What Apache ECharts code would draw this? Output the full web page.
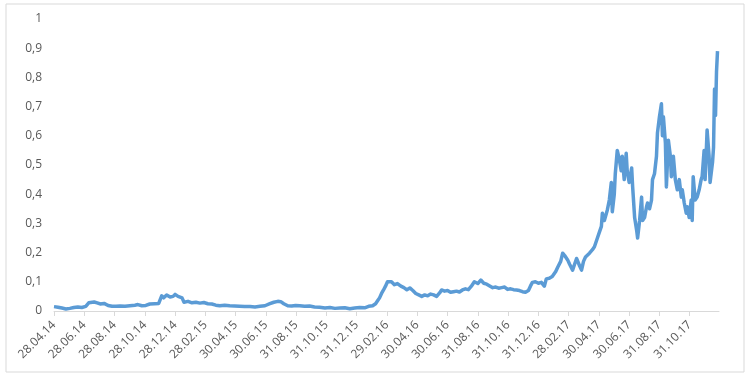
<!DOCTYPE html>
<html>
<head>
<meta charset="utf-8">
<script src="https://cdn.jsdelivr.net/npm/echarts@6/dist/echarts.min.js"></script>
<style>
  html, body { margin: 0; padding: 0; background: #fff; }
  #chart { width: 750px; height: 377px; }
</style>
</head>
<body>
<div id="chart"></div>
<script>
// подписи оси X (каждые 61 день от 28.04.14)
const tickLabels = [
  '28.04.14', '28.06.14', '28.08.14', '28.10.14', '28.12.14', '28.02.15',
  '30.04.15', '30.06.15', '31.08.15', '31.10.15', '31.12.15', '29.02.16',
  '30.04.16', '30.06.16', '31.08.16', '31.10.16', '31.12.16', '28.02.17',
  '30.04.17', '30.06.17', '31.08.17', '31.10.17'
];
const tickStep = 61;
const dayMax = 1340;

// день от 28.04.14
const days = [
  0, 8, 16, 24, 32, 40, 48, 56, 64, 70, 74, 81, 87, 93, 101, 109, 117, 125, 133, 143,
  153, 163, 169, 177, 185, 193, 203, 211, 217, 221, 227, 234, 240, 244, 250, 254, 258, 262, 270, 278,
  286, 294, 302, 310, 318, 326, 334, 344, 354, 364, 374, 384, 395, 405, 415, 425, 435, 443, 451, 457,
  463, 471, 479, 487, 495, 505, 515, 525, 535, 546, 556, 566, 576, 586, 596, 606, 616, 626, 634, 642,
  648, 652, 656, 660, 664, 668, 672, 676, 680, 686, 692, 699, 705, 711, 717, 723, 729, 735, 741, 747,
  753, 759, 765, 771, 777, 781, 787, 793, 799, 805, 811, 817, 823, 829, 835, 841, 847, 854, 860, 866,
  872, 878, 884, 890, 896, 902, 908, 914, 920, 926, 932, 938, 944, 950, 956, 960, 964, 970, 976, 982,
  988, 992, 998, 1004, 1011, 1015, 1021, 1025, 1029, 1035, 1039, 1045, 1049, 1053, 1059, 1063, 1067, 1071, 1075, 1079,
  1085, 1089, 1095, 1099, 1103, 1105, 1109, 1115, 1119, 1123, 1125, 1129, 1131, 1135, 1139, 1143, 1145, 1149, 1153, 1155,
  1159, 1164, 1166, 1170, 1174, 1176, 1180, 1184, 1186, 1190, 1194, 1196, 1200, 1204, 1206, 1210, 1214, 1216, 1220, 1224,
  1226, 1228, 1232, 1234, 1238, 1242, 1244, 1248, 1252, 1256, 1260, 1264, 1266, 1270, 1274, 1276, 1280, 1284, 1286, 1288,
  1292, 1296, 1300, 1304, 1306, 1310, 1312, 1314, 1316, 1320, 1322, 1327, 1329, 1331, 1333, 1335, 1337
];

// цена
const prices = [
  0.015, 0.013, 0.010, 0.007, 0.009, 0.012, 0.014, 0.012, 0.016, 0.028, 0.034, 0.031, 0.028, 0.024, 0.026, 0.019, 0.016, 0.016, 0.017, 0.016,
  0.018, 0.020, 0.022, 0.018, 0.019, 0.024, 0.025, 0.026, 0.052, 0.045, 0.055, 0.048, 0.050, 0.057, 0.050, 0.054, 0.045, 0.030, 0.033, 0.028,
  0.030, 0.027, 0.029, 0.025, 0.024, 0.020, 0.018, 0.020, 0.018, 0.017, 0.016, 0.015, 0.015, 0.014, 0.016, 0.018, 0.025, 0.030, 0.033, 0.032,
  0.025, 0.018, 0.017, 0.019, 0.018, 0.016, 0.017, 0.014, 0.013, 0.010, 0.012, 0.009, 0.010, 0.011, 0.008, 0.010, 0.012, 0.011, 0.016, 0.018,
  0.025, 0.035, 0.045, 0.060, 0.072, 0.085, 0.100, 0.104, 0.100, 0.090, 0.094, 0.085, 0.080, 0.073, 0.079, 0.070, 0.060, 0.055, 0.050, 0.055,
  0.052, 0.058, 0.055, 0.050, 0.062, 0.072, 0.068, 0.070, 0.064, 0.066, 0.068, 0.065, 0.072, 0.076, 0.073, 0.085, 0.100, 0.094, 0.106, 0.095,
  0.092, 0.086, 0.080, 0.082, 0.078, 0.080, 0.082, 0.074, 0.076, 0.073, 0.072, 0.070, 0.066, 0.064, 0.070, 0.085, 0.098, 0.100, 0.095, 0.098,
  0.085, 0.110, 0.112, 0.118, 0.135, 0.150, 0.170, 0.198, 0.190, 0.175, 0.160, 0.140, 0.160, 0.180, 0.155, 0.140, 0.170, 0.185, 0.190, 0.198,
  0.210, 0.220, 0.250, 0.270, 0.290, 0.335, 0.310, 0.346, 0.380, 0.440, 0.340, 0.400, 0.470, 0.550, 0.520, 0.480, 0.530, 0.450, 0.540, 0.480,
  0.440, 0.490, 0.425, 0.320, 0.277, 0.250, 0.310, 0.390, 0.310, 0.320, 0.357, 0.370, 0.350, 0.380, 0.450, 0.470, 0.530, 0.610, 0.665, 0.710,
  0.600, 0.665, 0.575, 0.425, 0.585, 0.530, 0.460, 0.530, 0.450, 0.415, 0.450, 0.390, 0.415, 0.370, 0.335, 0.357, 0.320, 0.380, 0.310, 0.460,
  0.380, 0.390, 0.415, 0.450, 0.460, 0.550, 0.450, 0.530, 0.620, 0.530, 0.440, 0.510, 0.560, 0.760, 0.670, 0.820, 0.890
];

const labelColor = '#595959';
const labelFont = '"Open Sans", sans-serif';

const chart = echarts.init(document.getElementById('chart'), null, { renderer: 'canvas' });
chart.setOption({
  backgroundColor: '#fff',
  animation: false,
  grid: { left: 54, right: 31, top: 19, bottom: 66 },
  graphic: [{
    type: 'rect',
    shape: { x: 6, y: 4, width: 738, height: 368 },
    style: { fill: 'none', stroke: '#d9d9d9', lineWidth: 1 },
    silent: true
  }],
  xAxis: {
    type: 'value',
    min: 0,
    max: dayMax,
    splitLine: { show: false },
    axisLine: { show: true, lineStyle: { color: '#d9d9d9', width: 1 } },
    axisTick: {
      show: true,
      length: 5,
      lineStyle: { color: '#d9d9d9' },
      customValues: tickLabels.map((_, i) => i * tickStep)
    },
    axisLabel: {
      rotate: 45,
      margin: 12,
      color: labelColor,
      fontFamily: labelFont,
      fontSize: 12,
      customValues: tickLabels.map((_, i) => i * tickStep),
      formatter: v => tickLabels[Math.round(v / tickStep)] || ''
    }
  },
  yAxis: {
    type: 'value',
    min: 0,
    max: 1,
    interval: 0.1,
    splitLine: { show: false },
    axisLine: { show: false },
    axisTick: { show: false },
    axisLabel: {
      margin: 12,
      color: labelColor,
      fontFamily: labelFont,
      fontSize: 12,
      formatter: v => String(Math.round(v * 10) / 10).replace('.', ',')
    }
  },
  series: [{
    type: 'line',
    data: days.map((d, i) => [d, prices[i]]),
    showSymbol: false,
    lineStyle: { color: '#5b9bd5', width: 3.5, join: 'round' },
    itemStyle: { color: '#5b9bd5' }
  }]
});
</script>
</body>
</html>
